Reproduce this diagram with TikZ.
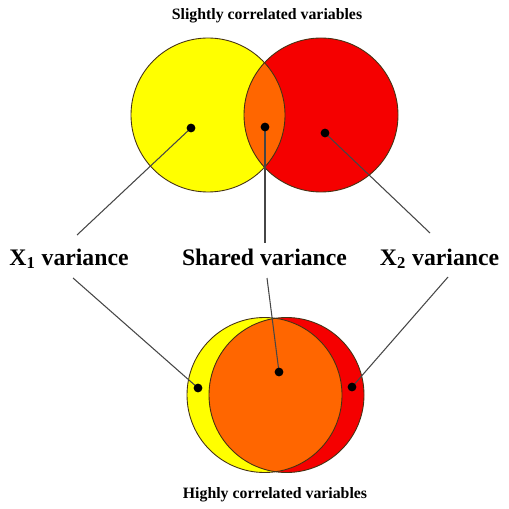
\documentclass[tikz,border=0pt]{standalone}
\usepackage{fontspec}
\setmainfont{Liberation Serif}
\usepackage{xcolor}
\definecolor{vyellow}{RGB}{255,255,0}
\definecolor{vred}{RGB}{245,0,0}
\definecolor{vorange}{RGB}{255,102,0}
\definecolor{vedge}{RGB}{70,50,20}
\definecolor{vline}{RGB}{70,70,70}
\usetikzlibrary{positioning}

\begin{document}
\begin{tikzpicture}[
  x=0.02cm,y=-0.02cm,
  disc/.style={draw=vedge,line width=0.5pt},
  dot/.style={circle,fill=black,inner sep=0pt,minimum size=5pt},
  lbl/.style={font=\fontsize{13.5}{16}\selectfont\bfseries,anchor=base,inner sep=0pt},
  ttl/.style={font=\fontsize{9}{11}\selectfont\bfseries,anchor=base,inner sep=0pt},
  lead/.style={vline,line width=0.6pt}
]
  \useasboundingbox (0,0) rectangle (508,509);
  % Titles
  \node[ttl] (top) at (267,20) {Slightly correlated variables};
  \node[ttl] (bot) at (275,498) {Highly correlated variables};
  % Upper pair
  \fill[vyellow] (208,115) circle (77);
  \fill[vred] (321,115) circle (77);
  \begin{scope}
    \clip (208,115) circle (77);
    \fill[vorange] (321,115) circle (77);
  \end{scope}
  \draw[disc] (208,115) circle (77);
  \draw[disc] (321,115) circle (77);
  % Lower pair
  \fill[vyellow] (264.5,395) circle (77.5);
  \fill[vred] (286.5,395) circle (77.5);
  \begin{scope}
    \clip (264.5,395) circle (77.5);
    \fill[vorange] (286.5,395) circle (77.5);
  \end{scope}
  \draw[disc] (264.5,395) circle (77.5);
  \draw[disc] (286.5,395) circle (77.5);
  % Labels
  \node[lbl] (x1) at (69,265) {X\textsubscript{1} variance};
  \node[lbl] (sh) at (264.5,265) {Shared variance};
  \node[lbl] (x2) at (439.5,265) {X\textsubscript{2} variance};
  % Line ends next to labels
  \coordinate (x1up) at (77,235);
  \coordinate (shup) at (265,243);
  \coordinate (x2up) at (430,233);
  \coordinate (x1dn) at (73,278);
  \coordinate (shdn) at (267,278);
  \coordinate (x2dn) at (448,277);
  % Leader lines
  \coordinate (y1) at (191,128);
  \coordinate (o1) at (265,127);
  \coordinate (r1) at (325,133);
  \coordinate (y2) at (198,388);
  \coordinate (o2) at (279,372);
  \coordinate (r2) at (352,387);
  \draw[lead] (y1) -- (x1up);
  \draw[lead] (o1) -- (shup);
  \draw[lead] (r1) -- (x2up);
  \draw[lead] (x1dn) -- (y2);
  \draw[lead] (shdn) -- (o2);
  \draw[lead] (x2dn) -- (r2);
  % Dots
  \foreach \p in {y1,o1,r1,y2,o2,r2}
    \node[dot] at (\p) {};
\end{tikzpicture}
\end{document}
